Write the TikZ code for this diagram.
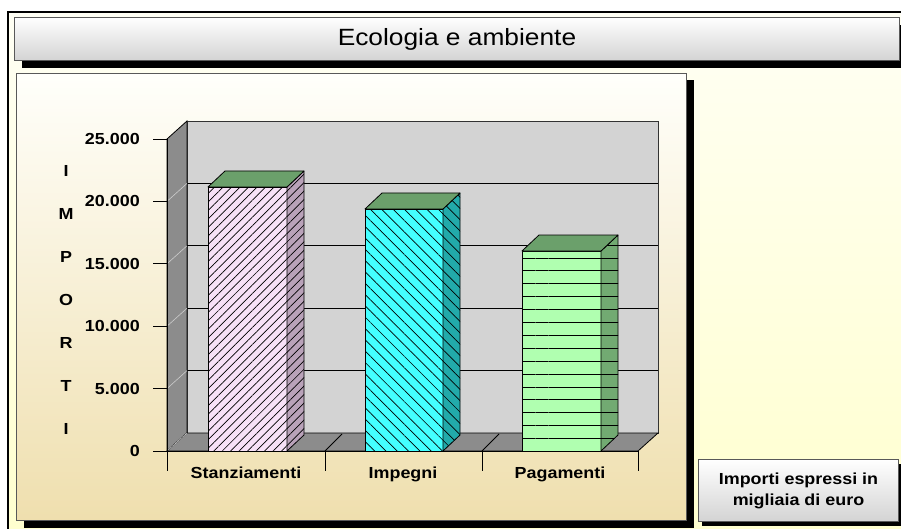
\documentclass[tikz,border=0pt]{standalone}
\usepackage{fontspec}
\newfontfamily\chartfont[FakeStretch=1.12]{Liberation Sans}
\usetikzlibrary{patterns.meta,shadows}

\definecolor{bgtop}{HTML}{FFFFF4}
\definecolor{bgbot}{HTML}{FFFFCF}
\definecolor{paneltop}{HTML}{FFFFFB}
\definecolor{panelbot}{HTML}{EFDFAE}
\definecolor{wallgray}{HTML}{D3D3D3}
\definecolor{sidegray}{HTML}{8C8C8C}
\definecolor{topgreen}{HTML}{6BA06B}
\definecolor{lilac}{HTML}{F7E1F7}
\definecolor{lilacside}{HTML}{B9A2B9}
\definecolor{aqua}{HTML}{44FFFF}
\definecolor{aquaside}{HTML}{22AAAA}
\definecolor{mint}{HTML}{B0FFB0}
\definecolor{mintside}{HTML}{72AA72}

\begin{document}
\begin{tikzpicture}[x=1pt, y=-1pt,
			box/.style={rectangle, draw=black!65, line width=1pt, anchor=north west, inner sep=0pt},
			dropped/.style 2 args={general shadow={fill=black, shadow xshift=#1, shadow yshift=-#2}},
			headbox/.style={box, top color=white, bottom color=black!17},
			panel/.style={box, top color=paneltop, bottom color=panelbot, dropped={7pt}{7pt}},
			lbl/.style={font=\chartfont\bfseries\fontsize{16}{21}\selectfont, inner sep=0pt},
			face/.style={draw=black, line width=0.8pt, line join=round},
			hatchne/.style={postaction={pattern={Lines[angle=45, distance=6pt, line width=0.7pt]}}},
			hatchnw/.style={postaction={pattern={Lines[angle=-45, distance=8pt, line width=0.7pt]}}},
			hatchh/.style={postaction={pattern={Lines[angle=0, distance=12.9pt, line width=1pt]}}}
			]
			\useasboundingbox (0,0) rectangle (901,529);
			
			% sfondo e cornice esterna
			\fill[top color=bgtop, bottom color=bgbot] (8,12) rectangle (901,529);
			\draw[line width=1.2pt] (8,529) -- (8,12) -- (901,12);
			
			% titolo
			\node[headbox, dropped={7pt}{8pt}, minimum width=885pt, minimum height=43pt,
			font=\chartfont\fontsize{23.5}{26}\selectfont] (title) at (14,17) {Ecologia e ambiente};
			
			% pannello del grafico
			\node[panel, minimum width=670pt, minimum height=447pt] (chart) at (16,73) {};
			
			% pareti e pavimento
			\fill[wallgray, draw=black!80, line width=0.8pt] (187,121) rectangle (658,433);
			\fill[sidegray, draw=black, line width=0.8pt] (167,139) -- (187,121) -- (187,433) -- (167,451) -- cycle;
			\fill[sidegray, draw=black, line width=0.8pt] (167,451) -- (638,451) -- (658,433) -- (187,433) -- cycle;
			
			% griglia, tacche e valori
			\foreach \k in {1,...,4}
			\draw[line width=0.8pt] (187,{433-62.4*\k}) -- (658,{433-62.4*\k});
			\foreach \k in {0,...,4}
			\draw[black!20, line width=0.6pt] (167,{451-62.4*\k}) -- ++(20,-18);
			\foreach \k/\lab in {0/0,1/5.000,2/10.000,3/15.000,4/20.000,5/25.000}{
				\draw[line width=0.8pt] (153,{451-62.4*\k}) -- (167,{451-62.4*\k});
				\node[lbl, anchor=east] (val\k) at (140,{451-62.4*\k}) {\lab};
			}
			\draw[line width=1pt] (167,139) -- (167,451);
			
			% titolo asse verticale
			\foreach \ch [count=\i from 0] in {I,M,P,O,R,T,I}
			\node[lbl] (imp\i) at (66,{171+43*\i}) {\ch};
			
			% separatori sul pavimento
			\draw[line width=0.8pt] (325,451) -- ++(17,-17);
			\draw[line width=0.8pt] (482,451) -- ++(17,-17);
			
			% Stanziamenti
			\draw[face, fill=lilac, hatchne] (208,187) rectangle (287,451);
			\draw[face, fill=lilacside, hatchne] (287,451) -- (287,187) -- (304,171) -- (304,435) -- cycle;
			\draw[face, fill=topgreen] (208,187) -- (287,187) -- (304,171) -- (225,171) -- cycle;
			
			% Impegni
			\draw[face, fill=aqua, hatchnw] (365,209) rectangle (443,451);
			\draw[face, fill=aquaside, hatchnw] (443,451) -- (443,209) -- (460,193) -- (460,435) -- cycle;
			\draw[face, fill=topgreen] (365,209) -- (443,209) -- (460,193) -- (382,193) -- cycle;
			
			% Pagamenti
			\draw[face, fill=mint, hatchh] (522,251) rectangle (601,451);
			\draw[face, fill=mintside, hatchh] (601,451) -- (601,251) -- (618,235) -- (618,435) -- cycle;
			\draw[face, fill=topgreen] (522,251) -- (601,251) -- (618,235) -- (539,235) -- cycle;
			
			% asse delle categorie
			\draw[line width=1pt] (167,451) -- (638,451);
			\foreach \x in {167,325,482,638}
			\draw[line width=1pt] (\x,451) -- (\x,471);
			\node[lbl, anchor=base] (stanz) at (246,478) {Stanziamenti};
			\node[lbl, anchor=base] (impe) at (403,478) {Impegni};
			\node[lbl, anchor=base] (paga) at (560,478) {Pagamenti};
			
			% nota sulle unita
			\node[headbox, dropped={3pt}{4pt}, minimum width=200pt, minimum height=62pt, align=center,
			lbl] (note) at (698,459) {Importi espressi in\\migliaia di euro};
			
		\end{tikzpicture}
\end{document}
